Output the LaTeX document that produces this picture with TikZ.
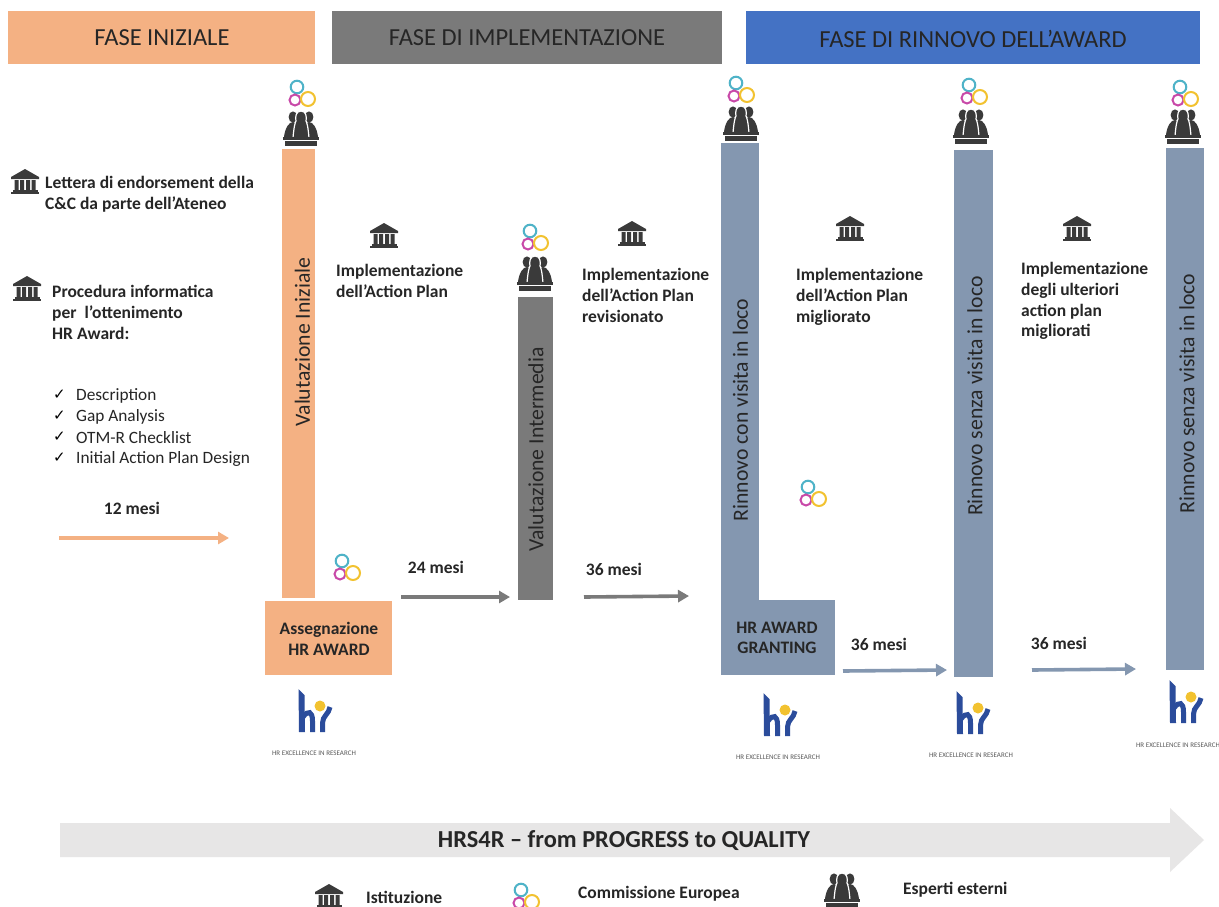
\documentclass[tikz,border=0pt]{standalone}
\usepackage{fontspec}
\setmainfont{Carlito}
\newfontfamily\symfont{DejaVu Sans}
\usetikzlibrary{arrows.meta}
\definecolor{cOrange}{HTML}{F4B183}
\definecolor{cGray}{HTML}{7A7A7A}
\definecolor{cBlue}{HTML}{4472C4}
\definecolor{cSteel}{HTML}{8497B0}
\definecolor{cLight}{HTML}{E7E6E6}
\definecolor{cText}{HTML}{262626}
\definecolor{cIcon}{HTML}{3A3A3A}
\definecolor{cLogo}{HTML}{2B4C9B}
\definecolor{cRingA}{HTML}{4FB3C8}
\definecolor{cRingB}{HTML}{C849A8}
\definecolor{cRingC}{HTML}{F2C230}
\tikzset{
  x=1pt,y=-1pt,
  header/.style={minimum height=53pt,inner sep=0pt},
  headtext/.style={inner sep=0pt,text=cText,font=\fontsize{24.5}{28}\selectfont},
  bar/.style={inner sep=0pt,text=cText,font=\fontsize{21.7}{24}\selectfont},
  body/.style={inner sep=0pt,anchor=north west,align=left,text=cText,font=\fontsize{17.5}{20.8}\selectfont\bfseries},
  plain/.style={inner sep=0pt,anchor=west,text=cText,font=\fontsize{17.3}{20}\selectfont},
  tick/.style={inner sep=0pt,anchor=west,text=black,font=\fontsize{15}{16}\symfont},
  months/.style={inner sep=0pt,text=cText,font=\fontsize{17.5}{20}\selectfont\bfseries},
  boxlabel/.style={inner sep=0pt,align=center,text=cText,font=\fontsize{17.5}{20.4}\selectfont\bfseries},
  legendlabel/.style={inner sep=0pt,anchor=west,text=cText,font=\fontsize{17.5}{20}\selectfont\bfseries},
  caption/.style={inner sep=0pt,text=black!65,font=\fontsize{7}{8}\selectfont},
  flow/.style={line width=3.6pt,-{Triangle[length=11pt,width=12pt]}},
  temple/.pic={
    \fill[cIcon] (-14,-4) -- (0,-12) -- (14,-4) -- (14,-2) -- (-14,-2) -- cycle;
    \fill[cIcon] (-10.5,-1) rectangle (-6.5,9) (-5,-1) rectangle (-1,9) (1,-1) rectangle (5,9) (6.5,-1) rectangle (10.5,9);
    \fill[cIcon] (-12.5,8.5) rectangle (12.5,10.5);
    \fill[cIcon] (-14,11) rectangle (14,13);
  },
  rings/.pic={
    \draw[line width=2pt,color=cRingA] (-5,-7) circle (6.3);
    \draw[line width=2pt,color=cRingB] (-7,6) circle (5.5);
    \draw[line width=2pt,color=cRingC] (6,5) circle (7);
  },
  people/.pic={
    \foreach \dx in {-8,8}{
      \fill[cIcon] (\dx,-11) ellipse (4.4 and 5.6);
      \fill[cIcon] (\dx-9,9) .. controls (\dx-8,0) and (\dx-4,-6) .. (\dx,-6) .. controls (\dx+4,-6) and (\dx+8,0) .. (\dx+9,9) -- cycle;
    }
    \draw[white,line width=1.2pt,fill=cIcon] (-8,10) .. controls (-7,-2) and (-6,-5) .. (-5,-7) .. controls (-6,-11) and (-5,-17) .. (0,-17) .. controls (5,-17) and (6,-11) .. (5,-7) .. controls (6,-5) and (7,-2) .. (8,10) -- cycle;
    \fill[cIcon] (-18,9) rectangle (18,12);
    \fill[cIcon] (-16,13) rectangle (16,18);
  },
  hrlogo/.pic={
    \fill[cLogo] (-15.5,-28) -- (-9.5,-22) -- (-9,15) -- (-15,15) -- cycle;
    \draw[cLogo,line width=5pt] (-11,0) .. controls (-6,-7) and (-1.5,-6) .. (-1.5,4) -- (-1.5,15);
    \draw[cLogo,line width=5pt] (16,-10) .. controls (15,-3) and (8.5,-1) .. (8.5,6) -- (8.5,15);
    \fill[cRingC] (6,-11) circle (5.5);
  }
}
\begin{document}
\begin{tikzpicture}
\useasboundingbox (0,0) rectangle (1219,906);
\fill[white] (0,0) rectangle (1219,906);

% headers
\node[header,fill=cOrange,minimum width=307pt] (h1) at (161.5,37.5) {};
\node[header,fill=cGray,minimum width=390pt] (h2) at (527,37.5) {};
\node[header,fill=cBlue,minimum width=454pt] (h3) at (973,37.5) {};
\node[headtext] (h1t) at (162,38) {FASE INIZIALE};
\node[headtext] (h2t) at (527,38) {FASE DI IMPLEMENTAZIONE};
\node[headtext] (h3t) at (973,39) {FASE DI RINNOVO DELL’AWARD};

% bars
\fill[cOrange] (282,149) rectangle (315,598);
\fill[cOrange] (265,601) rectangle (392,675);
\fill[cGray] (518,297) rectangle (553,600);
\fill[cSteel] (721,143) rectangle (759,601);
\fill[cSteel] (721,600) rectangle (835,675);
\fill[cSteel] (954,150) rectangle (993,677);
\fill[cSteel] (1166,148) rectangle (1204,670);

\node[bar,rotate=90] (v1) at (302.5,342) {Valutazione Iniziale};
\node[bar,rotate=90] (v2) at (536,449.5) {Valutazione Intermedia};
\node[bar,rotate=90] (v3) at (740.5,410) {Rinnovo con visita in loco};
\node[bar,rotate=90] (v4) at (975,396) {Rinnovo senza visita in loco};
\node[bar,rotate=90] (v5) at (1187,393.5) {Rinnovo senza visita in loco};

\node[boxlabel] (b1) at (329,639) {Assegnazione\\HR AWARD};
\node[boxlabel] (b2) at (777,638) {HR AWARD\\GRANTING};

% left column
\node[body] (t1) at (45,176) {Lettera di endorsement della\\C\&C da parte dell’Ateneo};
\node[body] (t2) at (52,285) {Procedura informatica\\per\ \ l’ottenimento\\HR Award:};
\foreach \n/\yy/\s in {a/396/Description,b/417/Gap Analysis,c/438/OTM-R Checklist,d/459/Initial Action Plan Design}{
  \node[tick] (k\n) at (53,\yy-1) {✓};
  \node[plain] (l\n) at (76,\yy) {\s};
}

% implementation texts
\node[body] (t3) at (336,264) {Implementazione\\dell’Action Plan};
\node[body] (t4) at (582,268) {Implementazione\\dell’Action Plan\\revisionato};
\node[body] (t5) at (796,268) {Implementazione\\dell’Action Plan\\migliorato};
\node[body] (t6) at (1021,262) {Implementazione\\degli ulteriori\\action plan\\migliorati};

% months and arrows
\node[months] (m1) at (132,508) {12 mesi};
\node[months] (m2) at (436,567) {24 mesi};
\node[months] (m3) at (614,569) {36 mesi};
\node[months] (m4) at (879,644) {36 mesi};
\node[months] (m5) at (1059,643) {36 mesi};

\coordinate (a1s) at (59,538); \coordinate (a1e) at (229,538);
\coordinate (a2s) at (401,597); \coordinate (a2e) at (510,597);
\coordinate (a3s) at (584,597); \coordinate (a3e) at (689,596);
\coordinate (a4s) at (843,671); \coordinate (a4e) at (947,670);
\coordinate (a5s) at (1032,670); \coordinate (a5e) at (1136,669);
\draw[flow,cOrange] (a1s) -- (a1e);
\draw[flow,cGray] (a2s) -- (a2e);
\draw[flow,cGray] (a3s) -- (a3e);
\draw[flow,cSteel] (a4s) -- (a4e);
\draw[flow,cSteel] (a5s) -- (a5e);

% temples
\pic at (25,181) {temple};
\pic at (27,288) {temple};
\pic at (384,235) {temple};
\pic at (632,233) {temple};
\pic at (850,228) {temple};
\pic at (1077,228) {temple};
\pic at (329,896) {temple};

% rings
\foreach \p in {(302,94),(347,568),(535,238),(741,90),(813,494),(974,92),(1185,94),(526,897)}
  \pic at \p {rings};

% people
\pic at (301,128) {people};
\pic at (535,273) {people};
\pic at (741,123) {people};
\pic at (971,126) {people};
\pic at (1183,126) {people};
\pic at (842,890) {people};

% logos
\pic at (314,717) {hrlogo};
\node[caption] (c1) at (314,753) {HR EXCELLENCE IN RESEARCH};
\pic at (779,721) {hrlogo};
\node[caption] (c2) at (778,757) {HR EXCELLENCE IN RESEARCH};
\pic at (972,719) {hrlogo};
\node[caption] (c3) at (971,755) {HR EXCELLENCE IN RESEARCH};
\pic at (1185,708) {hrlogo};
\node[caption] (c4) at (1178,745) {HR EXCELLENCE IN RESEARCH};

% big arrow
\fill[cLight] (60,823) -- (1170,823) -- (1170,808) -- (1204,840) -- (1170,872) -- (1170,857) -- (60,857) -- cycle;
\node[inner sep=0pt,text=cText,font=\fontsize{24.4}{28}\selectfont\bfseries] (big) at (624,841) {HRS4R – from PROGRESS to QUALITY};

% legend
\node[legendlabel] (g1) at (366,897) {Istituzione};
\node[legendlabel] (g2) at (578,894) {Commissione Europea};
\node[legendlabel] (g3) at (903,890) {Esperti esterni};
\end{tikzpicture}
\end{document}
